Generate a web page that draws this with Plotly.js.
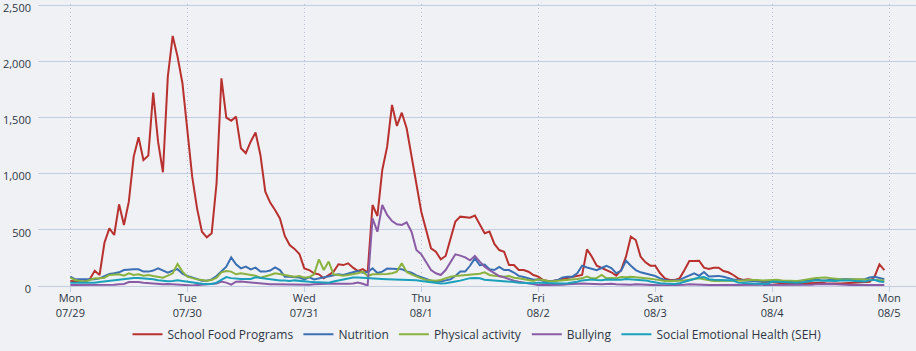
<!DOCTYPE html>
<html>
<head>
<meta charset="utf-8">
<script src="https://cdn.plot.ly/plotly-3.0.1.min.js"></script>
<style>
  html, body { margin: 0; padding: 0; background: #eff1f4; }
  #chart { width: 916px; height: 351px; }
</style>
</head>
<body>
<div id="chart"></div>
<script>
// Hourly series starting Mon 2019-07-29 00:00 (168 hours)
const startTime = "2019-07-29T00:00:00Z";

const seriesNames = ["School Food Programs", "Nutrition", "Physical activity", "Bullying", "Social Emotional Health (SEH)"];
const seriesColors = ["#b8312f", "#3b6fb3", "#8ab23e", "#8a5ca6", "#1aa0bb"];

const schoolFood = [
  45, 39, 39, 39, 60, 136, 98, 385, 513, 454, 727, 543, 750, 1151, 1323, 1121, 1160, 1720, 1284, 1012, 1863, 2225, 2041, 1804,
  1418, 973, 691, 483, 433, 469, 914, 1848, 1498, 1471, 1507, 1225, 1181, 1284, 1365, 1166, 839, 742, 676, 601, 445, 365, 330, 285,
  157, 142, 113, 104, 68, 98, 127, 193, 186, 202, 163, 133, 150, 120, 721, 623, 1032, 1240, 1611, 1424, 1542, 1403, 1151, 884,
  661, 498, 335, 305, 237, 267, 424, 573, 617, 611, 608, 626, 543, 469, 484, 374, 320, 305, 187, 187, 142, 142, 127, 98,
  83, 53, 44, 44, 53, 62, 71, 77, 89, 98, 326, 261, 181, 163, 142, 122, 92, 142, 261, 439, 409, 261, 211, 181,
  181, 113, 68, 53, 53, 68, 142, 222, 222, 225, 163, 151, 163, 163, 133, 122, 98, 68, 53, 59, 53, 44, 38, 38,
  30, 28, 25, 22, 20, 20, 22, 25, 28, 30, 28, 25, 22, 20, 22, 25, 28, 30, 32, 35, 38, 83, 193, 142
];

const nutrition = [
  83, 59, 59, 59, 53, 59, 68, 89, 107, 113, 122, 142, 148, 148, 148, 128, 128, 137, 157, 137, 119, 137, 150, 110,
  89, 77, 59, 47, 47, 59, 89, 128, 172, 255, 193, 157, 172, 148, 163, 128, 128, 137, 166, 142, 83, 83, 80, 75,
  59, 77, 59, 68, 77, 83, 98, 104, 98, 113, 122, 134, 118, 125, 157, 115, 128, 155, 152, 150, 150, 130, 118, 95,
  80, 60, 48, 40, 40, 50, 60, 90, 128, 128, 180, 246, 185, 190, 150, 142, 170, 142, 142, 120, 90, 80, 70, 55,
  60, 47, 45, 45, 53, 77, 83, 83, 113, 181, 165, 150, 140, 160, 180, 160, 115, 135, 225, 181, 142, 122, 113, 98,
  89, 68, 53, 47, 47, 53, 74, 92, 113, 90, 125, 85, 90, 90, 83, 68, 59, 53, 47, 47, 45, 42, 38, 42,
  40, 38, 35, 35, 38, 42, 45, 50, 55, 60, 50, 48, 55, 58, 60, 62, 60, 55, 55, 60, 75, 82, 70, 60
];

const physicalActivity = [
  74, 53, 45, 39, 53, 68, 68, 74, 98, 104, 104, 92, 113, 98, 104, 92, 98, 89, 83, 74, 92, 113, 196, 128,
  83, 68, 59, 53, 47, 53, 74, 122, 134, 128, 104, 113, 107, 104, 92, 74, 83, 98, 113, 104, 98, 92, 83, 89,
  74, 80, 104, 237, 142, 217, 104, 98, 92, 98, 104, 113, 128, 89, 104, 104, 107, 107, 113, 128, 202, 125, 104, 83,
  68, 53, 47, 47, 53, 68, 83, 89, 92, 98, 98, 104, 110, 122, 98, 92, 89, 83, 89, 74, 68, 59, 53, 45,
  60, 50, 45, 42, 45, 48, 50, 55, 62, 68, 83, 68, 72, 98, 68, 72, 68, 80, 77, 83, 80, 77, 70, 65,
  59, 50, 45, 45, 45, 45, 48, 55, 62, 68, 60, 50, 45, 45, 45, 48, 48, 45, 50, 53, 55, 53, 50, 53,
  55, 55, 50, 48, 45, 45, 50, 55, 65, 72, 75, 75, 70, 62, 60, 58, 60, 62, 60, 58, 55, 50, 45, 48
];

const bullying = [
  10, 10, 8, 8, 8, 10, 10, 10, 10, 12, 15, 18, 35, 38, 35, 30, 25, 22, 18, 15, 18, 15, 12, 10,
  8, 5, 8, 10, 12, 18, 22, 40, 30, 12, 38, 40, 35, 30, 25, 20, 18, 15, 15, 14, 15, 12, 12, 10,
  10, 12, 15, 18, 20, 22, 22, 20, 18, 20, 22, 30, 20, 5, 602, 483, 721, 632, 578, 549, 543, 567, 483, 320,
  282, 208, 142, 113, 98, 142, 217, 282, 270, 255, 228, 267, 217, 172, 142, 113, 89, 77, 59, 47, 38, 30, 25, 20,
  10, 8, 8, 8, 10, 12, 15, 18, 20, 22, 20, 18, 15, 15, 18, 20, 15, 12, 10, 12, 15, 12, 10, 8,
  8, 6, 6, 6, 8, 10, 12, 15, 15, 12, 10, 10, 8, 8, 6, 6, 6, 8, 8, 8, 10, 10, 8, 8,
  10, 10, 8, 8, 8, 8, 10, 10, 12, 15, 18, 20, 18, 15, 12, 10, 10, 10, 8, 8, 8, 10, 10, 10
];

const seh = [
  30, 30, 28, 25, 25, 28, 35, 40, 48, 55, 60, 65, 70, 72, 72, 70, 65, 60, 52, 48, 42, 45, 50, 45,
  38, 32, 25, 20, 18, 18, 30, 55, 80, 70, 65, 62, 62, 62, 78, 72, 62, 58, 55, 50, 48, 45, 50, 48,
  42, 38, 35, 32, 30, 30, 40, 50, 62, 72, 76, 76, 72, 70, 68, 65, 62, 60, 58, 62, 60, 58, 55, 52,
  45, 38, 30, 24, 22, 25, 30, 40, 48, 60, 70, 72, 68, 55, 52, 52, 50, 45, 40, 35, 30, 28, 25, 25,
  30, 28, 25, 22, 22, 22, 25, 30, 38, 50, 55, 58, 53, 52, 58, 55, 53, 55, 62, 60, 58, 55, 50, 40,
  30, 25, 22, 20, 18, 25, 38, 55, 65, 75, 80, 60, 55, 52, 55, 50, 48, 30, 25, 25, 22, 20, 18, 18,
  40, 38, 35, 30, 28, 28, 32, 38, 45, 50, 48, 45, 42, 45, 48, 50, 48, 45, 42, 40, 50, 55, 40, 35
];

const tickDates = ["2019-07-29", "2019-07-30", "2019-07-31", "2019-08-01", "2019-08-02", "2019-08-03", "2019-08-04", "2019-08-05"];
const tickLabels = ["Mon<br>07/29", "Tue<br>07/30", "Wed<br>07/31", "Thu<br>08/1", "Fri<br>08/2", "Sat<br>08/3", "Sun<br>08/4", "Mon<br>08/5"];
const yTicks = [0, 500, 1000, 1500, 2000, 2500];

function hourlyTimes(n) {
  const t0 = Date.parse(startTime);
  const out = [];
  for (let i = 0; i < n; i++) {
    const d = new Date(t0 + i * 3600000).toISOString();
    out.push(d.slice(0, 10) + " " + d.slice(11, 16));
  }
  return out;
}

const allSeries = [schoolFood, nutrition, physicalActivity, bullying, seh];
const traces = allSeries.map((vals, i) => ({
  type: "scatter",
  mode: "lines",
  name: seriesNames[i],
  x: hourlyTimes(vals.length),
  y: vals,
  line: { color: seriesColors[i], width: 2 },
  hoverinfo: "x+y+name"
}));

const fontFam = "'Open Sans', 'Liberation Sans', sans-serif";
const layout = {
  width: 916,
  height: 351,
  margin: { l: 38, r: 0, t: 4, b: 65 },
  paper_bgcolor: "#eff1f4",
  plot_bgcolor: "#eff1f4",
  font: { family: fontFam, size: 11, color: "#2e3644" },
  showlegend: true,
  legend: {
    orientation: "h",
    x: 0.5, xanchor: "center",
    y: -0.171, yanchor: "middle",
    font: { family: fontFam, size: 12, color: "#2e3644" },
    bgcolor: "rgba(0,0,0,0)",
    traceorder: "normal"
  },
  xaxis: {
    type: "date",
    range: ["2019-07-28 17:22", "2019-08-05 05:30"],
    tickmode: "array",
    tickvals: tickDates,
    ticktext: tickLabels,
    showgrid: true,
    gridcolor: "#b3bfd8",
    griddash: "1px,3px",
    gridwidth: 1,
    ticks: "outside",
    ticklen: 5,
    tickcolor: "#c3cde2",
    ticklabelstandoff: -3,
    showline: false,
    zeroline: false,
    tickfont: { family: fontFam, size: 11, color: "#2e3644" },
    fixedrange: true
  },
  yaxis: {
    range: [0, 2509],
    tickmode: "array",
    tickvals: yTicks,
    tickformat: ",d",
    showgrid: true,
    gridcolor: "#c3cde2",
    gridwidth: 1,
    zeroline: true,
    zerolinecolor: "#c3cde2",
    zerolinewidth: 1,
    ticks: "",
    ticklabelstandoff: 6,
    ticklabelshift: 3,
    ticklabeloverflow: "allow",
    tickfont: { family: fontFam, size: 11, color: "#2e3644" },
    fixedrange: true
  }
};

Plotly.newPlot("chart", traces, layout, { displayModeBar: false, staticPlot: true });
</script>
</body>
</html>
